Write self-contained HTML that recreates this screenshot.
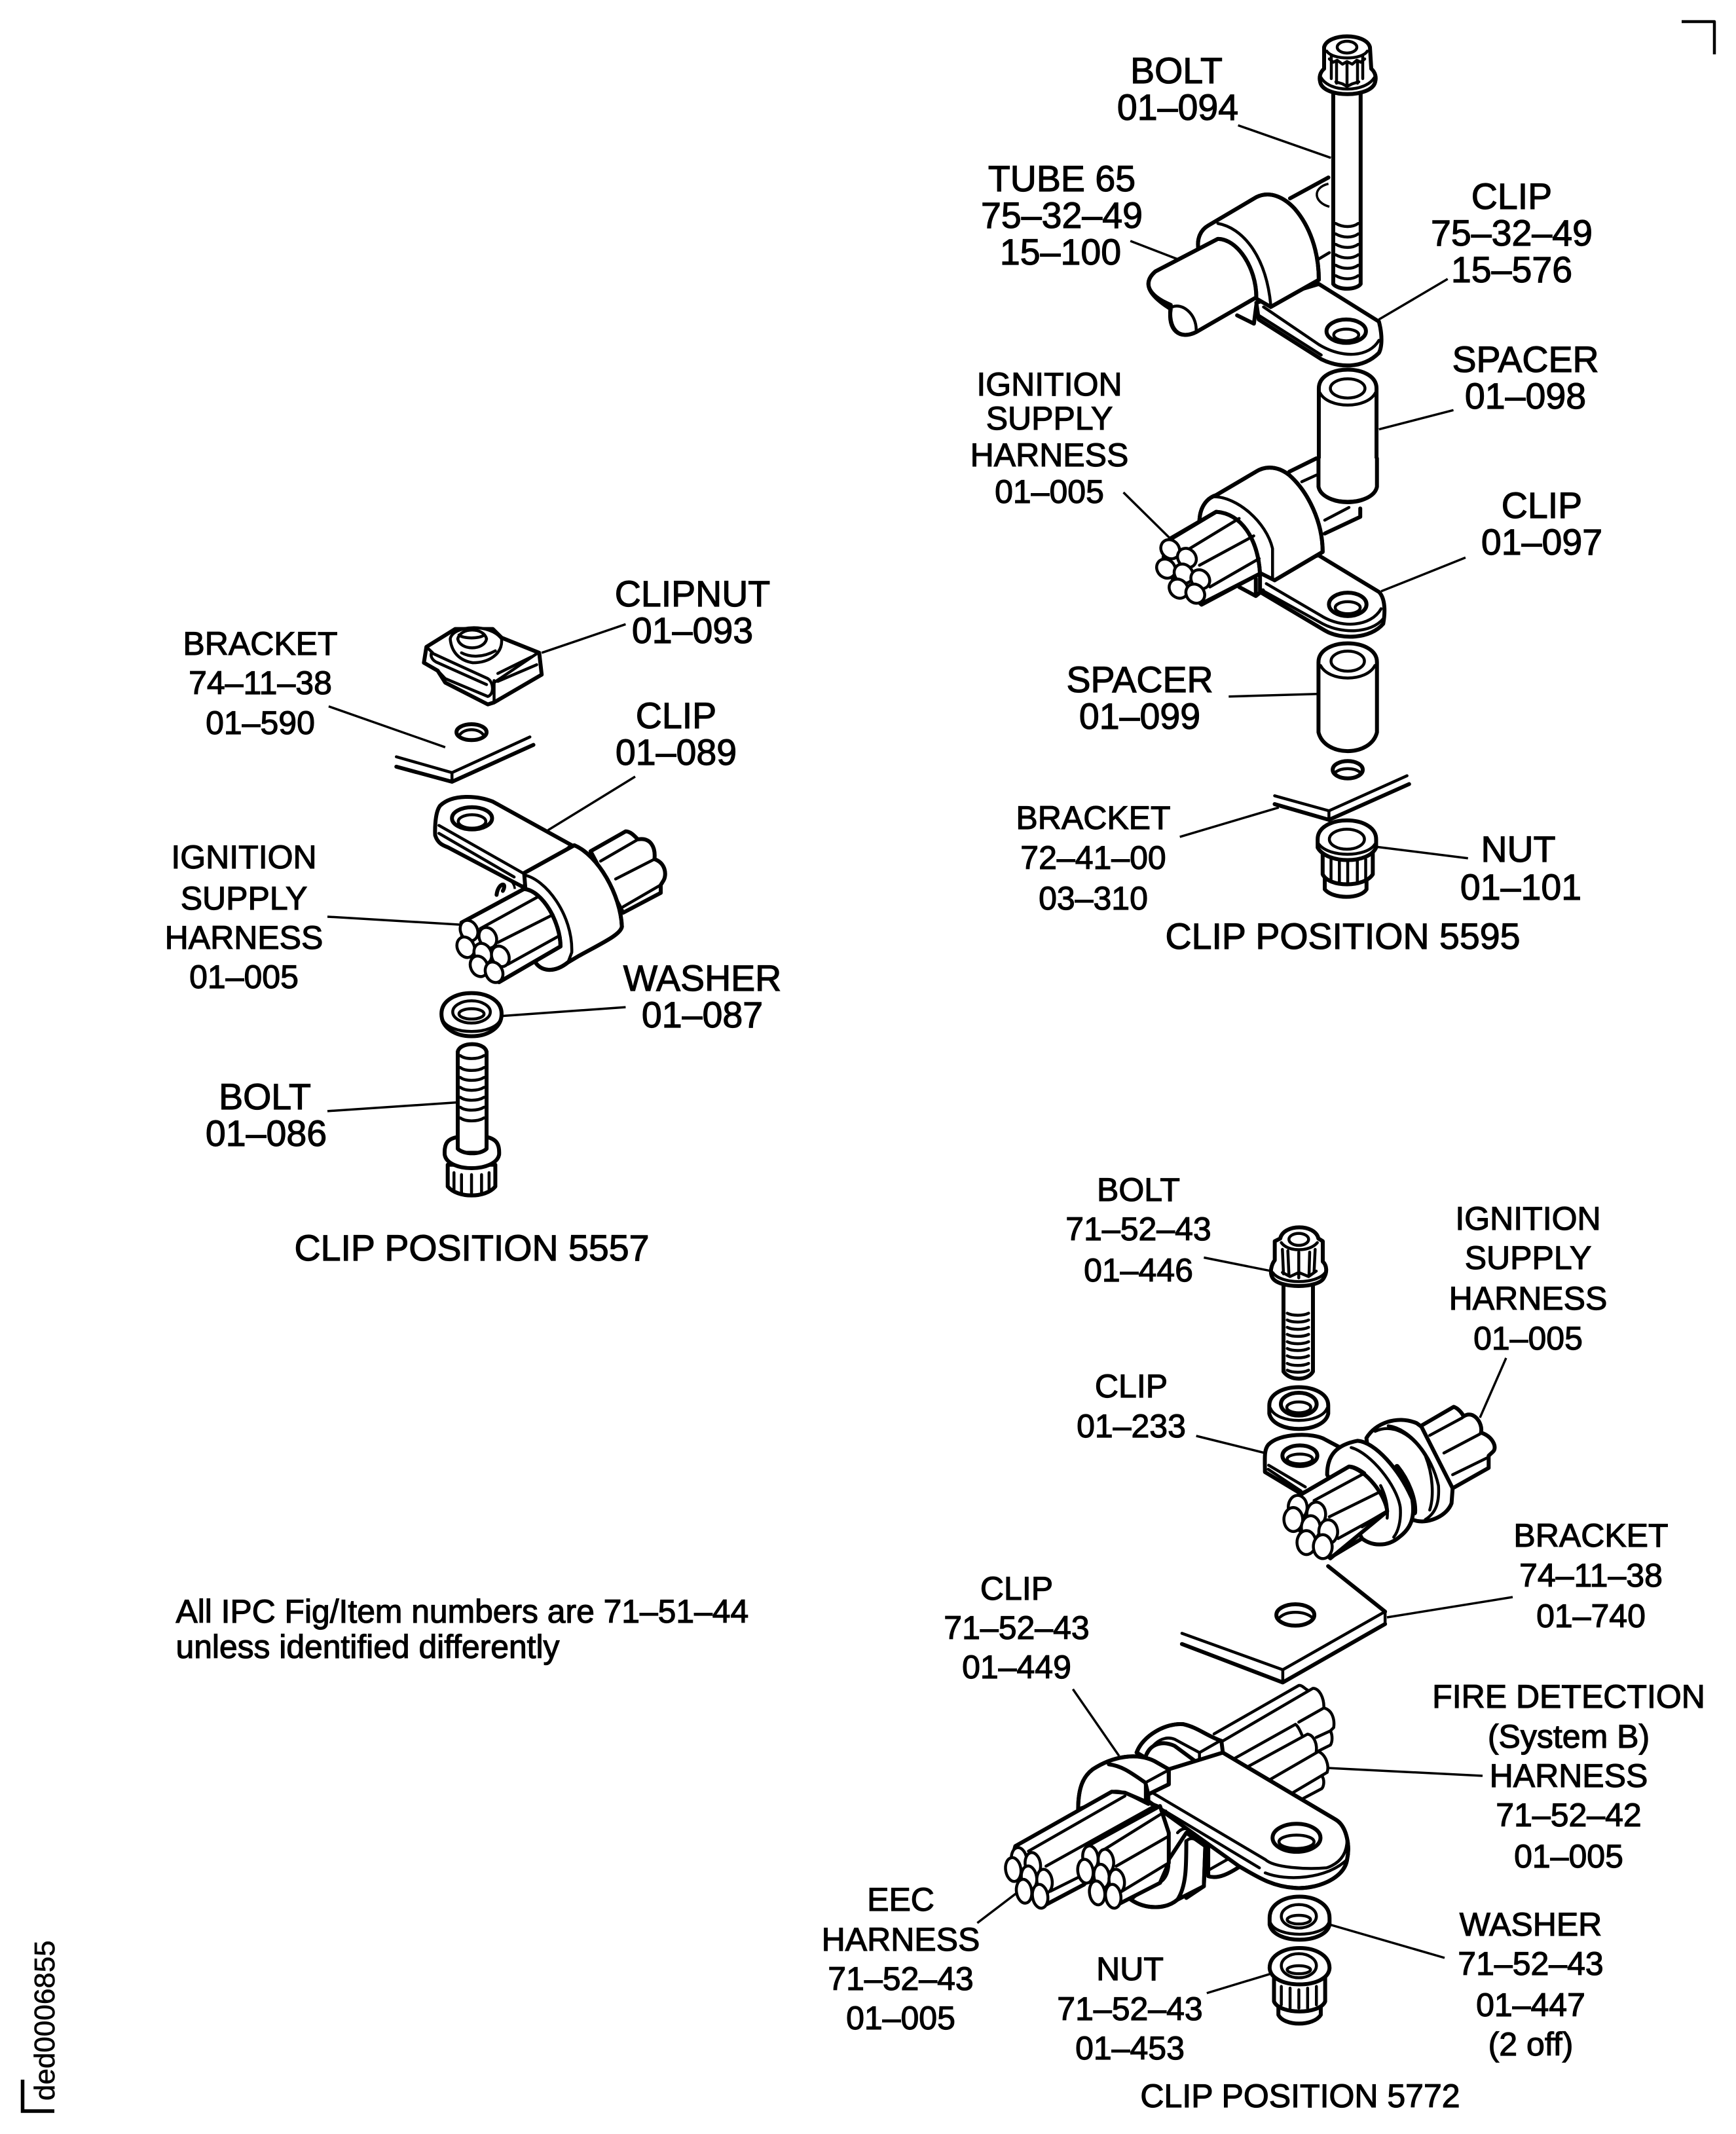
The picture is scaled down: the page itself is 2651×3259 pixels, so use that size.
<!DOCTYPE html>
<html><head><meta charset="utf-8"><style>
html,body{margin:0;padding:0;background:#fff}
svg{display:block}
path,line,ellipse,polyline{vector-effect:non-scaling-stroke;fill:none;stroke:#000;stroke-width:6;stroke-linecap:round;stroke-linejoin:round}
.w{fill:#fff}
.m{stroke-width:4.5}
.l{stroke-width:3.5;stroke-linecap:butt}
text{font-family:"Liberation Sans",Arial,sans-serif;font-size:55.5px;fill:#000;stroke:#000;stroke-width:1.2;text-anchor:middle}
.s{font-size:50px}
</style></head><body>
<svg xmlns="http://www.w3.org/2000/svg" width="2651" height="3259" viewBox="0 0 2651 3259">
<rect width="2651" height="3259" fill="#fff"/>

<!-- Corner marks -->
<path d="M2568,33 L2618,33 L2618,83" class="m" style="stroke-linecap:butt"/>
<path d="M34.5,3176 L34.5,3224 L83,3224" style="stroke-linecap:butt;stroke-linejoin:miter;stroke-width:5.5"/>
<text transform="translate(83,3208) rotate(-90)" style="font-size:44px;stroke-width:.6;text-anchor:start">ded0006855</text>

<!-- TOP RIGHT, upper part -->
<g transform="translate(1500,0) scale(.7342,.6378)">
  <!-- tube behind -->
  <path d="M640,475 L720,425"/>
  <path class="l" d="M720,440 C685,450 690,485 722,495"/>
  <path d="M700,620 L722,605" class="m"/>
  <!-- bolt shaft -->
  <path class="w" d="M730,220 L730,680 C740,695 778,695 787,680 L787,220 Z"/>
  <path class="m" d="M735,535 C750,545 770,545 782,535 M735,560 C750,570 770,570 782,560 M735,585 C750,595 770,595 782,585 M735,610 C750,620 770,620 782,610 M735,635 C750,645 770,645 782,635 M735,660 C750,670 770,670 782,660"/>
  <line class="l" x1="532" y1="300" x2="725" y2="378"/>

  <!-- clip tab -->
  <path class="w" d="M700,680 L825,770 C832,800 832,830 825,845 C790,885 740,880 705,860 L575,765 L570,725 Z"/>
  <path class="m" d="M585,735 L700,825 C750,860 805,855 825,815"/>
  <path class="m" d="M575,755 L705,850"/>
  <path d="M530,755 L565,775 L570,730"/>
  <ellipse cx="757" cy="793" rx="41" ry="28"/>
  <ellipse class="m" cx="757" cy="802" rx="26" ry="14"/>
  <!-- band -->
  <path class="w" d="M450,600 C445,570 455,550 470,540 L570,472 C600,455 630,475 650,500 C680,540 700,600 700,670 L600,735 L570,715 Z"/>
  <path d="M450,600 C445,570 455,550 470,540 L570,472 C600,455 630,475 650,500 C680,540 700,600 700,670 L600,735"/>
  <path class="m" d="M490,535 C540,545 590,610 600,730"/>
  <!-- tube -->
  <path class="w" d="M360,650 L490,572 C530,572 570,640 570,712 L445,795 C410,815 385,790 392,740 C350,710 330,680 360,650 Z"/>
  <path d="M360,650 L490,572 C530,572 570,640 570,712 L445,795 C410,815 385,790 392,730 C350,710 330,680 360,650 Z"/>
  <path class="m" d="M395,735 C415,725 445,750 445,790"/>
  <line class="l" x1="308" y1="577" x2="405" y2="620"/>
  <line class="l" x1="825" y1="765" x2="968" y2="668"/>

  <!-- upper spacer -->
  <path class="w" d="M700,930 C700,870 820,870 820,930 L820,1165 C810,1215 710,1215 700,1165 Z"/>
  <ellipse class="m" cx="760" cy="930" rx="36" ry="23"/>
  <path class="m" d="M702,940 C720,980 800,980 818,940"/>
  <line class="l" x1="825" y1="1028" x2="980" y2="982"/>
</g>

<!-- top bolt head (page coordinates) -->
<path class="w" d="M2022,72 C2028,50 2086,50 2092,72 L2094,105 C2100,110 2102,118 2100,125 C2095,150 2020,150 2016,125 C2014,118 2016,110 2022,105 Z"/>
<ellipse class="m" cx="2057" cy="72" rx="15" ry="9"/>
<path class="m" d="M2026,78 C2035,92 2080,92 2088,78 M2030,90 L2036,95 L2042,92 L2050,98 L2057,94 L2065,98 L2072,92 L2078,95 L2084,90 M2040,125 L2050,128 L2057,132 L2065,128 L2075,125 M2033,86 L2033,120 M2041,95 L2041,127 M2057,98 L2057,132 M2073,95 L2073,127 M2081,86 L2081,120 M2017,118 C2030,142 2085,142 2099,118"/>

<!-- TOP RIGHT, lower part -->
<g transform="translate(1500,700) scale(.6378,.5102)">
  <!-- behind -->
  <path d="M735,40 L800,0 M820,225 L905,175 L905,150"/>
  <path class="m" d="M765,70 L800,50 M820,185 L878,147"/>
  <!-- tab -->
  <path class="w" d="M805,290 L950,400 C965,420 965,460 960,495 C930,540 860,545 820,515 L665,400 L665,340 Z"/>
  <path class="m" d="M680,375 L810,470 C860,510 930,505 955,450"/>
  <path class="m" d="M670,395 L815,495 C860,525 930,525 960,480"/>
  <path d="M615,385 L655,412 L672,395 M655,360 L655,410"/>
  <ellipse cx="875" cy="437" rx="45" ry="35"/>
  <ellipse class="m" cx="875" cy="447" rx="30" ry="18"/>
  <!-- band -->
  <path class="w" d="M520,190 C520,150 535,120 560,110 L655,40 C680,20 710,25 735,50 C780,100 815,190 815,280 L700,365 L660,340 Z"/>
  <path d="M520,190 C520,150 535,120 560,110 L655,40 C680,20 710,25 735,50 C780,100 815,190 815,280 L700,365"/>
  <path class="m" d="M555,115 C610,115 680,190 695,270 L695,360"/>
  <!-- harness -->
  <path class="w" d="M440,250 L560,160 C620,165 660,240 665,345 L525,438 L430,330 Z"/>
  <path d="M450,240 L560,160 C620,165 660,240 665,345 L525,435"/>
  <path class="m" d="M490,275 L615,180 M520,320 L650,232 M545,385 L663,300"/>
  <ellipse class="w m" cx="450" cy="272" rx="22" ry="29" transform="rotate(-15 450 272)"/>
  <ellipse class="w m" cx="490" cy="298" rx="22" ry="29" transform="rotate(-15 490 298)"/>
  <ellipse class="w m" cx="440" cy="330" rx="22" ry="29" transform="rotate(-15 440 330)"/>
  <ellipse class="w m" cx="482" cy="345" rx="22" ry="29" transform="rotate(-15 482 345)"/>
  <ellipse class="w m" cx="522" cy="362" rx="22" ry="29" transform="rotate(-15 522 362)"/>
  <ellipse class="w m" cx="470" cy="390" rx="22" ry="29" transform="rotate(-15 470 390)"/>
  <ellipse class="w m" cx="510" cy="405" rx="22" ry="29" transform="rotate(-15 510 405)"/>
  <line class="l" x1="338" y1="102" x2="450" y2="240"/>
  <line class="l" x1="955" y1="398" x2="1157" y2="297"/>
  <!-- redraw spacer bottom -->
  <path class="w" d="M805,0 L805,85 C815,145 935,145 945,85 L945,0" style="stroke-width:6"/>

  <!-- lower spacer -->
  <path class="w" d="M805,610 C805,535 945,535 945,610 L945,820 C930,895 820,895 805,820 Z"/>
  <ellipse class="m" cx="875" cy="607" rx="40" ry="30"/>
  <path class="m" d="M810,620 C830,670 920,670 940,620"/>
  <line class="l" x1="590" y1="713" x2="805" y2="705"/>
  <ellipse cx="875" cy="932" rx="36" ry="26"/>
  <path class="m" d="M845,940 C860,925 890,925 905,940"/>
  <!-- bracket -->
  <path class="m" d="M700,1010 L830,1055 L1017,950"/>
  <path d="M700,1035 L830,1082 L1022,975"/>
  <path class="m" d="M830,1055 L830,1082"/>
  <line class="l" x1="473" y1="1133" x2="710" y2="1045"/>
  <!-- nut -->
  <path class="w" d="M820,1225 L820,1290 C840,1320 905,1320 920,1290 L920,1225 Z"/>
  <path class="w" d="M815,1180 L815,1245 C830,1285 915,1285 935,1245 L935,1180 Z"/>
  <path class="m" d="M835,1200 L835,1265 M855,1205 L855,1272 M875,1205 L875,1275 M898,1205 L898,1272 M918,1200 L918,1265"/>
  <path class="w" d="M803,1140 C803,1065 943,1065 943,1140 L943,1165 C925,1215 825,1215 803,1165 Z"/>
  <ellipse class="m" cx="873" cy="1140" rx="42" ry="30"/>
  <path class="m" d="M806,1155 C830,1195 920,1195 940,1155"/>
  <line class="l" x1="945" y1="1163" x2="1163" y2="1197"/>
</g>

<!-- LEFT GROUP -->
<g transform="translate(500,900) scale(.3827,.606)">
  <!-- clipnut -->
  <path class="w" d="M395,145 L510,100 L660,100 L695,122 L845,160 L855,215 L665,285 L640,290 L470,235 L440,205 L385,185 Z"/>
  <path class="m" d="M415,160 L640,225 C665,235 665,265 640,270 L470,225 L440,205"/>
  <path class="m" d="M415,160 C410,170 420,180 440,185 L635,240 M395,145 L420,160 M665,230 L665,285 M665,235 L840,160"/>
  <path class="m" d="M680,212 L815,170 M680,232 L835,190"/>
  <path class="w m" d="M490,125 C500,90 650,85 695,125 C700,165 640,185 580,185 C530,180 495,160 490,125 Z"/>
  <path class="m" d="M520,125 C530,95 625,95 635,125 C625,155 530,155 520,125 Z M525,115 C540,125 610,125 625,115 M535,160 C570,172 620,172 670,155"/>
  <line class="l" x1="855" y1="160" x2="1190" y2="88"/>
  <!-- hole + bracket -->
  <ellipse cx="575" cy="360" rx="60" ry="20"/>
  <path class="m" d="M530,365 C550,350 600,350 620,365"/>
  <line class="l" x1="5" y1="295" x2="470" y2="398"/>
  <path class="m" d="M275,422 L497,462 L808,372"/>
  <path d="M275,447 L497,485 L822,392"/>
  <path class="m" d="M497,462 L497,485"/>
  <!-- back harness -->
  <path class="w" d="M1050,660 L1190,610 C1215,610 1235,630 1240,630 C1290,625 1310,650 1305,680 C1350,690 1355,720 1340,735 L1330,745 L1330,765 L1180,815 Z"/>
  <path class="m" d="M1090,685 L1240,630 M1150,730 L1305,680 M1180,800 L1330,745"/>
  <!-- tab -->
  <path class="w" d="M975,645 L660,535 C600,520 500,515 450,545 C425,565 430,620 430,620 C440,640 460,645 480,650 L780,750 Z"/>
  <path class="m" d="M445,595 L780,715 M445,615 L745,725"/>
  <ellipse cx="577" cy="577" rx="80" ry="28"/>
  <ellipse class="m" cx="577" cy="585" rx="55" ry="17"/>
  <path d="M675,770 C680,740 720,735 700,760"/>
  <path class="l" d="M700,725 C730,730 745,740 748,755"/>
  <!-- band -->
  <path class="w" d="M785,715 L985,645 C1080,670 1170,770 1175,850 C1170,870 1100,890 1000,925 L960,940 C900,970 850,960 830,940 L790,755 Z"/>
  <path d="M785,715 L985,645 C1080,670 1170,770 1175,850 C1170,870 1100,890 1000,925 L960,940 C900,970 850,960 830,940"/>
  <path class="m" d="M785,720 C870,730 980,820 975,915 L960,940"/>
  <!-- harness -->
  <path class="w" d="M535,840 L785,755 C860,760 930,840 930,900 L685,990 L540,900 Z"/>
  <path d="M535,840 L785,755 C860,760 930,840 930,900 L685,990"/>
  <path class="m" d="M610,855 L840,775 M680,890 L900,820 M720,945 L920,875"/>
  <ellipse class="w m" cx="565" cy="860" rx="36" ry="25" transform="rotate(15 565 860)"/>
  <ellipse class="w m" cx="640" cy="878" rx="36" ry="25" transform="rotate(15 640 878)"/>
  <ellipse class="w m" cx="552" cy="902" rx="36" ry="25" transform="rotate(15 552 902)"/>
  <ellipse class="w m" cx="620" cy="918" rx="36" ry="25" transform="rotate(15 620 918)"/>
  <ellipse class="w m" cx="690" cy="925" rx="36" ry="25" transform="rotate(15 690 925)"/>
  <ellipse class="w m" cx="605" cy="950" rx="36" ry="25" transform="rotate(15 605 950)"/>
  <ellipse class="w m" cx="665" cy="965" rx="36" ry="25" transform="rotate(15 665 965)"/>
  <line class="l" x1="0" y1="825" x2="530" y2="845"/>
  <line class="l" x1="880" y1="607" x2="1228" y2="472"/>
  <!-- washer -->
  <path class="w" d="M455,1070 C455,1000 695,1000 695,1070 C695,1145 455,1145 455,1070 Z"/>
  <path class="m" d="M458,1082 C480,1125 670,1125 692,1082"/>
  <ellipse class="m" cx="575" cy="1065" rx="75" ry="28"/>
  <ellipse class="m" cx="575" cy="1070" rx="50" ry="13"/>
  <line class="l" x1="700" y1="1075" x2="1190" y2="1053"/>
  <!-- bolt -->
  <path class="w" d="M520,1165 C530,1140 625,1140 635,1165 L635,1420 L520,1420 Z"/>
  <path class="m" d="M530,1175 C550,1185 600,1185 625,1175 M530,1205 C550,1215 600,1215 625,1205 M530,1230 C550,1240 600,1240 625,1230 M530,1255 C550,1265 600,1265 625,1255 M530,1280 C550,1290 600,1290 625,1280 M530,1305 C550,1315 600,1315 625,1305 M530,1332 C550,1342 600,1342 625,1332"/>
  <path class="w" d="M480,1450 L480,1505 C520,1535 630,1535 670,1505 L670,1450 Z"/>
  <path class="m" d="M505,1470 L505,1515 M535,1475 L535,1525 M575,1475 L575,1528 M615,1475 L615,1525 M645,1470 L645,1515"/>
  <path class="w" d="M520,1380 C480,1385 465,1395 468,1425 C480,1470 670,1470 685,1425 C688,1395 670,1385 635,1380 L635,1410 C610,1425 545,1425 520,1410 Z"/>
  <line class="l" x1="0" y1="1315" x2="520" y2="1293"/>
</g>

<!-- BOTTOM RIGHT, upper assembly -->
<g transform="translate(1800,1850) scale(.3333,.4146)">
  <!-- bolt -->
  <path class="w" d="M480,260 L480,590 C510,625 590,625 615,590 L615,260 Z"/>
  <path class="m" d="M497,375 C520,385 570,385 595,375 M497,400 C520,410 570,410 595,400 M497,427 C520,437 570,437 595,427 M497,453 C520,463 570,463 595,453 M497,480 C520,490 570,490 595,480 M497,505 C520,515 570,515 595,505 M497,532 C520,542 570,542 595,532 M497,560 C520,570 570,570 595,560 M497,585 C520,595 570,595 595,585"/>
  <path class="w" d="M465,100 C480,45 625,45 640,100 L660,110 L660,185 C680,200 680,225 665,245 C640,285 460,285 430,245 C415,225 425,195 440,180 L440,110 Z"/>
  <ellipse class="m" cx="550" cy="103" rx="45" ry="22"/>
  <path class="m" d="M470,115 C500,150 600,150 635,115 M475,140 L480,230 M500,145 L505,235 M550,150 L550,245 M600,150 L597,235 M625,140 L620,225 M475,225 L510,240 L550,225 L595,240 L630,220 M430,225 C470,270 630,270 672,225"/>
  <line class="l" x1="115" y1="170" x2="425" y2="220"/>
  <!-- washer -->
  <path class="w" d="M415,715 C415,625 685,625 685,715 L685,745 C665,820 435,820 415,745 Z"/>
  <ellipse cx="550" cy="710" rx="82" ry="42"/>
  <ellipse class="m" cx="550" cy="722" rx="55" ry="20"/>
  <path class="m" d="M420,725 C450,785 650,785 680,725"/>
  <line class="l" x1="80" y1="827" x2="395" y2="890"/>
  <!-- back rings -->
  <path class="w" d="M860,835 C900,780 1000,750 1090,780 C1180,830 1255,930 1255,1020 L1250,1075 C1230,1120 1150,1150 1090,1140 L900,1100 Z"/>
  <path class="m" d="M900,810 C980,780 1070,820 1130,900 C1165,970 1170,1050 1150,1100 M960,790 C1060,800 1160,900 1190,1010 C1195,1070 1180,1110 1130,1135"/>
  <!-- back harness -->
  <path class="w" d="M1110,790 L1260,720 C1280,725 1300,745 1305,755 C1350,730 1395,780 1385,815 C1440,830 1460,870 1440,885 L1420,900 L1420,945 L1255,1020 Z"/>
  <path class="m" d="M1150,825 L1300,760 M1215,890 L1380,820 M1255,970 L1420,905"/>
  <!-- tab -->
  <path class="w" d="M740,870 L670,840 C620,815 460,815 410,860 C390,880 395,910 395,960 L560,1040 L700,990 Z"/>
  <path class="m" d="M412,935 L580,1015 M410,950 L560,1030"/>
  <ellipse cx="555" cy="900" rx="80" ry="38"/>
  <ellipse class="m" cx="555" cy="912" rx="58" ry="18"/>
  <!-- front ring -->
  <path class="w" d="M680,970 C680,900 720,860 820,845 C900,850 1010,950 1070,1060 C1085,1130 1060,1170 1010,1200 C950,1240 880,1230 840,1205 Z"/>
  <path d="M1000,940 C1050,990 1085,1060 1080,1110" style="stroke-width:8"/>
  <path class="m" d="M790,870 C880,890 1000,1010 1015,1090 C1020,1140 1005,1180 985,1200"/>
  <!-- harness -->
  <path class="w" d="M555,1045 L780,940 C860,950 950,1050 955,1105 L695,1278 L520,1150 Z"/>
  <path d="M555,1045 L780,940 C800,940 825,950 850,965 M840,1205 L695,1275 M950,1108 L840,1160"/>
  <path class="m" d="M620,1065 L850,965 M690,1125 L930,1030 M730,1205 L950,1108 M925,1010 C950,1050 960,1090 955,1130"/>
  <ellipse class="w m" cx="545" cy="1090" rx="43" ry="44" transform="rotate(-12 545 1090)"/>
  <ellipse class="w m" cx="630" cy="1115" rx="43" ry="44" transform="rotate(-12 630 1115)"/>
  <ellipse class="w m" cx="525" cy="1135" rx="43" ry="44" transform="rotate(-12 525 1135)"/>
  <ellipse class="w m" cx="605" cy="1165" rx="43" ry="44" transform="rotate(-12 605 1165)"/>
  <ellipse class="w m" cx="685" cy="1180" rx="43" ry="44" transform="rotate(-12 685 1180)"/>
  <ellipse class="w m" cx="585" cy="1220" rx="43" ry="44" transform="rotate(-12 585 1220)"/>
  <ellipse class="w m" cx="660" cy="1235" rx="43" ry="44" transform="rotate(-12 660 1235)"/>
  <line class="l" x1="1500" y1="540" x2="1380" y2="760"/>
</g>

<!-- BOTTOM RIGHT, lower assembly: bracket -->
<g transform="translate(1450,2350) scale(.4464,.5102)">
  <path d="M1295,82 L1490,218"/>
  <path class="m" d="M1490,218 L1140,392 L795,283"/>
  <path d="M1490,255 L1140,430 L795,315"/>
  <path class="m" d="M1490,218 L1490,255 M1140,392 L1140,430"/>
  <ellipse cx="1183" cy="228" rx="65" ry="32"/>
  <path class="m" d="M1130,235 C1155,215 1210,215 1240,235"/>
</g>

<!-- back harness, traced -->
<g transform="translate(1900,2480) scale(.3333)">
  <path class="w" style="stroke:none" d="M-138,504 L250,282 L365,340 L415,440 L400,555 L385,680 L365,750 L270,800 L0,650 Z"/>
  <path class="m" d="M-138,504 L250,282 C265,280 275,295 290,303"/>
  <path class="m" d="M-99,537 L315,295 C345,295 365,340 365,380"/>
  <path class="m" d="M250,450 L365,385 C405,395 415,440 410,475 L395,490"/>
  <path class="m" d="M-60,625 L235,460 C250,470 260,500 265,510"/>
  <path class="m" d="M15,655 L290,505 C320,510 335,550 330,585"/>
  <path class="m" d="M115,715 L340,585 C375,600 390,650 380,680"/>
  <path class="m" d="M220,775 L380,680"/>
  <path class="m" d="M330,520 L395,490 C405,510 405,540 395,555 L335,585"/>
  <path class="m" d="M355,695 C370,715 365,745 355,755 L270,800"/>
</g>

<!-- BOTTOM RIGHT, lower assembly: rest -->
<g transform="translate(1450,2350) scale(.4464,.5102)">
  <!-- under parts -->
  <path class="w" d="M620,1080 C670,1110 740,1110 780,1080 L870,1040 L875,920 L810,880 L720,1000 Z"/>
  <path d="M620,1080 C670,1110 740,1110 780,1080 C810,1040 810,980 810,905 M810,1075 L870,1040 L875,920 M885,920 L885,1010 C920,1020 960,1000 995,980"/>
  <path class="m" d="M750,890 L750,980 C745,1020 720,1030 700,1040 M890,990 L950,960"/>
  <path class="m" d="M780,880 C800,860 830,860 870,905 M810,905 C820,895 835,895 850,905"/>
  <!-- rear clip band -->
  <path class="w" d="M640,640 C660,590 740,550 800,555 C850,565 880,590 930,605 L935,640 L855,675 L770,620 C720,600 680,620 670,655 Z"/>
  <path d="M640,640 C660,590 740,550 800,555 C850,565 880,590 930,605"/>
  <path class="m" d="M670,655 C700,600 740,590 770,600 L855,640 L925,605 M855,640 L855,675 L935,640 L930,605"/>
  <!-- tab -->
  <path class="w" d="M935,640 L1320,840 C1360,860 1370,920 1360,960 C1350,1020 1250,1050 1180,1045 C1100,1040 1050,1010 990,980 L680,785 L680,760 L750,690 Z"/>
  <path d="M935,640 L1320,840 C1360,860 1370,920 1360,960 C1350,1020 1250,1050 1180,1045 C1100,1040 1050,1010 990,980"/>
  <path class="m" d="M690,758 L1080,960 C1110,985 1220,990 1290,985 C1340,970 1360,940 1360,900 M680,785 L1060,985 M1080,1000 C1150,1025 1290,1020 1360,960"/>
  <ellipse cx="1187" cy="895" rx="82" ry="42"/>
  <ellipse class="m" cx="1187" cy="907" rx="60" ry="20"/>
  <!-- front band -->
  <path class="w" d="M440,810 C440,740 460,710 490,690 C560,650 640,640 700,665 L750,690 L750,735 L680,765 L670,790 L540,780 Z"/>
  <path d="M440,810 C440,740 460,710 490,690 C560,650 640,640 700,665 L750,690 L750,735 L680,765 L670,730 C620,700 590,680 545,675"/>
  <path class="m" d="M670,730 L750,692 M670,730 L670,790"/>
  <!-- harness 1 -->
  <path class="w" d="M225,920 L555,757 L600,760 L680,790 L710,800 L460,1035 L330,1095 L200,1000 Z"/>
  <path class="m" d="M225,920 L555,757 C590,750 620,770 680,795 M270,935 L600,770 M330,980 L700,800 M345,1055 L460,1005 M330,1095 L460,1035"/>
  <ellipse class="w m" cx="238" cy="960" rx="26" ry="36" transform="rotate(-12 238 960)"/>
  <ellipse class="w m" cx="285" cy="975" rx="26" ry="36" transform="rotate(-12 285 975)"/>
  <ellipse class="w m" cx="218" cy="990" rx="26" ry="36" transform="rotate(-12 218 990)"/>
  <ellipse class="w m" cx="272" cy="1015" rx="26" ry="36" transform="rotate(-12 272 1015)"/>
  <ellipse class="w m" cx="325" cy="1025" rx="26" ry="36" transform="rotate(-12 325 1025)"/>
  <ellipse class="w m" cx="255" cy="1055" rx="26" ry="36" transform="rotate(-12 255 1055)"/>
  <ellipse class="w m" cx="310" cy="1070" rx="26" ry="36" transform="rotate(-12 310 1070)"/>
  <!-- harness 2 -->
  <path class="w" d="M470,920 L720,800 L750,880 L750,970 L720,1030 L575,1095 L450,1000 Z"/>
  <path class="m" d="M470,920 L720,800 M520,935 L740,815 M570,980 L750,890 M590,1055 L750,970 M575,1095 L720,1030"/>
  <ellipse class="w m" cx="482" cy="955" rx="26" ry="36" transform="rotate(-12 482 955)"/>
  <ellipse class="w m" cx="535" cy="965" rx="26" ry="36" transform="rotate(-12 535 965)"/>
  <ellipse class="w m" cx="465" cy="995" rx="26" ry="36" transform="rotate(-12 465 995)"/>
  <ellipse class="w m" cx="520" cy="1010" rx="26" ry="36" transform="rotate(-12 520 1010)"/>
  <ellipse class="w m" cx="572" cy="1025" rx="26" ry="36" transform="rotate(-12 572 1025)"/>
  <ellipse class="w m" cx="505" cy="1060" rx="26" ry="36" transform="rotate(-12 505 1060)"/>
  <ellipse class="w m" cx="560" cy="1070" rx="26" ry="36" transform="rotate(-12 560 1070)"/>
  <line class="l" x1="422" y1="450" x2="580" y2="650"/>
  <line class="l" x1="95" y1="1150" x2="230" y2="1060"/>
  <!-- washer -->
  <path class="w" d="M1095,1135 C1095,1050 1300,1050 1300,1135 L1300,1155 C1285,1215 1110,1215 1095,1155 Z"/>
  <ellipse class="m" cx="1195" cy="1130" rx="60" ry="35"/>
  <ellipse class="m" cx="1195" cy="1140" rx="40" ry="13"/>
  <path class="m" d="M1098,1150 C1120,1195 1275,1195 1297,1150"/>
  <!-- nut -->
  <path class="w" d="M1125,1390 L1125,1425 C1145,1460 1245,1460 1270,1425 L1270,1390 Z"/>
  <path class="w" d="M1110,1310 L1110,1385 C1130,1425 1265,1425 1285,1385 L1285,1310 Z"/>
  <path class="m" d="M1135,1340 L1135,1395 M1165,1345 L1165,1405 M1195,1350 L1195,1405 M1225,1345 L1225,1405 M1255,1340 L1255,1395"/>
  <path class="w" d="M1095,1285 C1095,1205 1300,1205 1300,1285 C1295,1350 1100,1350 1095,1285 Z"/>
  <ellipse class="m" cx="1195" cy="1278" rx="60" ry="36"/>
  <ellipse class="m" cx="1195" cy="1290" rx="40" ry="12"/>
  <line class="l" x1="880" y1="1360" x2="1095" y2="1303"/>
</g>

<!-- Leaders in page coordinates -->
<line class="l" x1="2118" y1="2470" x2="2310" y2="2439"/>
<line class="l" x1="2028" y1="2700" x2="2264" y2="2712"/>
<line class="l" x1="2030" y1="2939" x2="2206" y2="2990"/>

<!-- TEXT -->
<g transform="translate(0.5,0)">
<text x="1796" y="127">BOLT</text>
<text x="1798" y="183">01–094</text>
<text x="1621" y="292">TUBE 65</text>
<text x="1621" y="348">75–32–49</text>
<text x="1619" y="404">15–100</text>
<text x="2308" y="319">CLIP</text>
<text x="2308" y="375">75–32–49</text>
<text x="2308" y="431">15–576</text>
<text class="s" x="1602" y="604">IGNITION</text>
<text class="s" x="1602" y="656">SUPPLY</text>
<text class="s" x="1602" y="712">HARNESS</text>
<text class="s" x="1602" y="768">01–005</text>
<text x="2329" y="568">SPACER</text>
<text x="2329" y="624">01–098</text>
<text x="2354" y="791">CLIP</text>
<text x="2354" y="847">01–097</text>
<text x="1740" y="1057">SPACER</text>
<text x="1740" y="1113">01–099</text>
<text class="s" x="1669" y="1266">BRACKET</text>
<text class="s" x="1669" y="1327">72–41–00</text>
<text class="s" x="1669" y="1389">03–310</text>
<text x="2318" y="1316">NUT</text>
<text x="2322" y="1374">01–101</text>
<text x="2050" y="1449">CLIP POSITION 5595</text>

<text x="1057" y="926">CLIPNUT</text>
<text x="1057" y="982">01–093</text>
<text class="s" x="397" y="1000">BRACKET</text>
<text class="s" x="397" y="1060">74–11–38</text>
<text class="s" x="397" y="1121">01–590</text>
<text x="1032" y="1112">CLIP</text>
<text x="1032" y="1168">01–089</text>
<text class="s" x="372" y="1326">IGNITION</text>
<text class="s" x="372" y="1389">SUPPLY</text>
<text class="s" x="372" y="1449">HARNESS</text>
<text class="s" x="372" y="1509">01–005</text>
<text x="1072" y="1513">WASHER</text>
<text x="1072" y="1569">01–087</text>
<text x="404" y="1694">BOLT</text>
<text x="406" y="1750">01–086</text>
<text x="720" y="1925">CLIP POSITION 5557</text>

<text class="s" x="268" y="2478" style="text-anchor:start;font-size:49.8px">All IPC Fig/Item numbers are 71–51–44</text>
<text class="s" x="268" y="2532" style="text-anchor:start;font-size:49.8px">unless identified differently</text>

<text class="s" x="1738" y="1834">BOLT</text>
<text class="s" x="1738" y="1894">71–52–43</text>
<text class="s" x="1738" y="1957">01–446</text>
<text class="s" x="2333" y="1878">IGNITION</text>
<text class="s" x="2333" y="1938">SUPPLY</text>
<text class="s" x="2333" y="2000">HARNESS</text>
<text class="s" x="2333" y="2061">01–005</text>
<text class="s" x="1727" y="2134">CLIP</text>
<text class="s" x="1727" y="2195">01–233</text>
<text class="s" x="2429" y="2362">BRACKET</text>
<text class="s" x="2429" y="2423">74–11–38</text>
<text class="s" x="2429" y="2485">01–740</text>
<text class="s" x="1552" y="2443">CLIP</text>
<text class="s" x="1552" y="2503">71–52–43</text>
<text class="s" x="1552" y="2563">01–449</text>
<text class="s" x="2395" y="2608">FIRE DETECTION</text>
<text class="s" x="2395" y="2669">(System B)</text>
<text class="s" x="2395" y="2729">HARNESS</text>
<text class="s" x="2395" y="2789">71–52–42</text>
<text class="s" x="2395" y="2852">01–005</text>
<text class="s" x="1375" y="2918">EEC</text>
<text class="s" x="1375" y="2979">HARNESS</text>
<text class="s" x="1375" y="3039">71–52–43</text>
<text class="s" x="1375" y="3099">01–005</text>
<text class="s" x="1725" y="3024">NUT</text>
<text class="s" x="1725" y="3085">71–52–43</text>
<text class="s" x="1725" y="3145">01–453</text>
<text class="s" x="2337" y="2956">WASHER</text>
<text class="s" x="2337" y="3016">71–52–43</text>
<text class="s" x="2337" y="3079">01–447</text>
<text class="s" x="2337" y="3139">(2 off)</text>
<text class="s" x="1985" y="3218">CLIP POSITION 5772</text>
</g>
</svg>
</body></html>
